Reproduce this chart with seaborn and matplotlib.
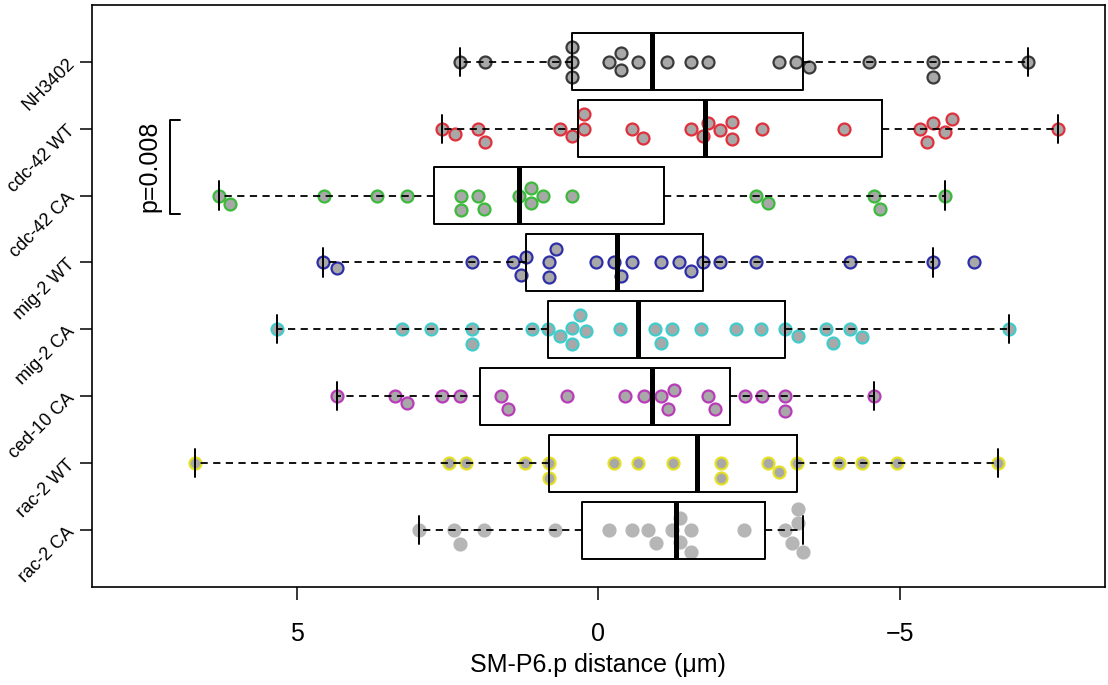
import numpy as np
import pandas as pd
import matplotlib.pyplot as plt
import seaborn as sns

groups = ["NH3402", "cdc-42 WT", "cdc-42 CA", "mig-2 WT",
          "mig-2 CA", "ced-10 CA", "rac-2 WT", "rac-2 CA"]
edge_colors = ["#3a3a3a", "#e0303c", "#3cba3c", "#2e2ea8",
               "#40cccc", "#b83cb8", "#e4e024", "#b6b6b6"]
face_colors = ["#a8a8a8"] * 7 + ["#b6b6b6"]

# SM-P6.p distance (um)
nh3402 = [2.29, 1.88, 0.74, 0.43, 0.43, 0.43, -0.18, -0.37, -0.37, -0.65,
          -1.14, -1.54, -1.82, -2.99, -3.28, -3.50, -4.49, -5.56, -5.56, -7.12]
cdc42_wt = [2.60, 2.38, 1.99, 1.88, 0.63, 0.43, 0.23, 0.23, -0.56, -0.74,
            -1.53, -1.73, -1.82, -2.02, -2.21, -2.21, -2.71, -4.07, -5.34,
            -5.45, -5.56, -5.75, -5.86, -7.62]
cdc42_ca = [6.30, 6.11, 4.55, 3.67, 3.17, 2.28, 2.28, 1.99, 1.89, 1.32,
            1.12, 1.12, 0.91, 0.43, -2.61, -2.81, -4.57, -4.67, -5.75]
mig2_wt = [4.56, 4.34, 2.10, 1.42, 1.29, 1.20, 0.81, 0.81, 0.71, 0.04,
           -0.26, -0.37, -0.56, -1.04, -1.34, -1.53, -1.73, -2.02, -2.62,
           -4.18, -5.56, -6.24]
mig2_ca = [5.33, 3.26, 2.77, 2.10, 2.10, 1.10, 0.84, 0.63, 0.43, 0.43,
           0.31, 0.20, -0.36, -0.94, -1.04, -1.23, -1.71, -2.28, -2.70,
           -3.10, -3.31, -3.78, -3.89, -4.18, -4.38, -6.82]
ced10_ca = [4.34, 3.38, 3.17, 2.60, 2.30, 1.62, 1.50, 0.52, -0.45, -0.75,
            -1.04, -1.15, -1.25, -1.82, -1.93, -2.43, -2.71, -3.10, -3.10, -4.57]
rac2_wt = [6.69, 2.48, 2.19, 1.21, 0.81, 0.81, -0.26, -0.65, -1.24, -2.03,
           -2.03, -2.81, -3.00, -3.29, -3.99, -4.38, -4.95, -6.63]
rac2_ca = [2.97, 2.39, 2.30, 1.89, 0.72, -0.18, -0.56, -0.83, -0.95, -1.22,
           -1.36, -1.36, -1.54, -1.54, -2.42, -3.10, -3.21, -3.31, -3.31, -3.40]

values = [nh3402, cdc42_wt, cdc42_ca, mig2_wt, mig2_ca, ced10_ca, rac2_wt, rac2_ca]
df = pd.concat([pd.DataFrame({"group": g, "dist": v}) for g, v in zip(groups, values)],
               ignore_index=True)


def tukey_stats(vals):
    # five-number summary like R's boxplot (hinges, 1.5 IQR whiskers)
    x = np.sort(np.asarray(vals, dtype=float))
    n = len(x)
    n4 = np.floor((n + 3) / 2) / 2
    d = np.array([1, n4, (n + 1) / 2, n + 1 - n4, n]) - 1
    five = 0.5 * (x[np.floor(d).astype(int)] + x[np.ceil(d).astype(int)])
    iqr = five[3] - five[1]
    lo = x[x >= five[1] - 1.5 * iqr].min()
    hi = x[x <= five[3] + 1.5 * iqr].max()
    return dict(med=five[2], q1=five[1], q3=five[3], whislo=lo, whishi=hi, fliers=[])


sns.set_style("ticks")
plt.rcParams["font.family"] = ["Liberation Sans", "DejaVu Sans"]
plt.rcParams.update({"text.color": "black", "axes.labelcolor": "black",
                     "xtick.color": "black", "ytick.color": "black"})

fig, ax = plt.subplots(figsize=(11.08, 6.85), dpi=100)
fig.subplots_adjust(left=0.083, right=0.997, top=0.993, bottom=0.143)

for g, ec, fc in zip(groups, edge_colors, face_colors):
    sns.swarmplot(data=df[df["group"] == g], x="dist", y="group", order=groups,
                  color=fc, edgecolor=ec, linewidth=1.6, size=8.6, ax=ax, zorder=2)

stats = [tukey_stats(v) for v in values]
ax.bxp(stats, positions=range(len(groups)), orientation="horizontal", widths=0.85,
       showfliers=False, manage_ticks=False, capwidths=0.42,
       boxprops=dict(color="black", linewidth=1.4),
       medianprops=dict(color="black", linewidth=3.6, solid_capstyle="butt"),
       whiskerprops=dict(color="black", linewidth=1.3, linestyle=(0, (4, 3))),
       capprops=dict(color="black", linewidth=1.4), zorder=3)

ax.set_xlim(8.4, -8.4)
ax.set_ylim(7.85, -0.85)
ax.set_xticks([5, 0, -5])
ax.set_xticklabels(["5", "0", "\u22125"], fontsize=18)
ax.set_yticks(range(len(groups)))
ax.set_yticklabels(groups, rotation=45, fontsize=13)
ax.tick_params(axis="both", length=9, width=1.1, color="black")
ax.tick_params(axis="y", pad=1)
ax.tick_params(axis="x", pad=16)
ax.set_xlabel("SM-P6.p distance (\u03bcm)", fontsize=18, labelpad=5)
ax.set_ylabel("")
for s in ax.spines.values():
    s.set_color("black")
    s.set_linewidth(1.2)

# significance bracket between cdc-42 WT and cdc-42 CA
ax.plot([6.94, 7.10, 7.10, 6.94], [0.87, 0.87, 2.28, 2.28], color="black", lw=1.4,
        clip_on=False)
ax.text(7.45, 1.57, "p=0.008", rotation=90, ha="center", va="center", fontsize=18)

fig.savefig("out.png", dpi=100)
